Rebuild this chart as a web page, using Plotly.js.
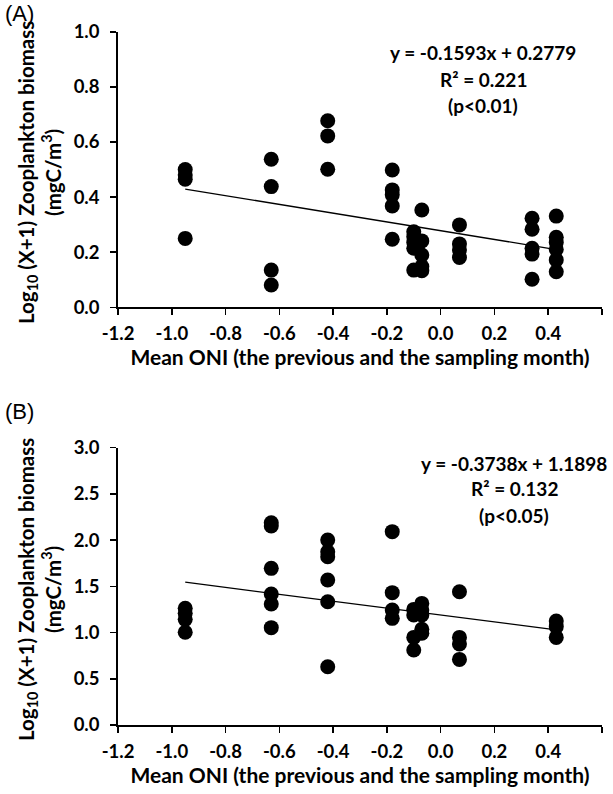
<!DOCTYPE html>
<html>
<head>
<meta charset="utf-8">
<script src="https://cdn.plot.ly/plotly-3.0.1.min.js"></script>
<style>html,body{margin:0;padding:0;background:#fff;}#chart{width:613px;height:794px;}</style>
</head>
<body>
<div id="chart"></div>
<script>
// Panel A: Mean ONI vs log10(X+1) zooplankton biomass
const oniA = [-0.95,-0.95,-0.95,-0.95,
  -0.63,-0.63,-0.63,-0.63,
  -0.42,-0.42,-0.42,
  -0.18,-0.18,-0.18,-0.18,-0.18,
  -0.10,-0.10,-0.10,-0.10,-0.10,
  -0.07,-0.07,-0.07,-0.07,-0.07,
  0.07,0.07,0.07,0.07,
  0.34,0.34,0.34,0.34,0.34,
  0.43,0.43,0.43,0.43,0.43,0.43];
const bioA = [0.50,0.48,0.465,0.25,
  0.537,0.438,0.135,0.081,
  0.677,0.622,0.501,
  0.498,0.426,0.408,0.368,0.247,
  0.274,0.256,0.235,0.214,0.135,
  0.353,0.241,0.190,0.148,0.133,
  0.299,0.230,0.208,0.181,
  0.323,0.283,0.214,0.193,0.102,
  0.331,0.254,0.235,0.210,0.172,0.129];
// Panel B
const oniB = [-0.95,-0.95,-0.95,-0.95,
  -0.63,-0.63,-0.63,-0.63,-0.63,-0.63,
  -0.42,-0.42,-0.42,-0.42,-0.42,-0.42,
  -0.18,-0.18,-0.18,-0.18,
  -0.10,-0.10,-0.10,-0.10,
  -0.07,-0.07,-0.07,-0.07,-0.07,
  0.07,0.07,0.07,0.07,
  0.43,0.43,0.43];
const bioB = [1.262,1.208,1.143,1.003,
  2.189,2.153,1.695,1.417,1.309,1.053,
  2.001,1.875,1.821,1.569,1.334,0.631,
  2.092,1.432,1.244,1.154,
  1.251,1.19,0.948,0.811,
  1.316,1.244,1.19,1.035,0.992,
  1.442,0.948,0.876,0.710,
  1.125,1.064,0.948];
// Regression fits
const slopeA = -0.1593, interceptA = 0.2779;
const slopeB = -0.3738, interceptB = 1.1898;
const fitXA = [Math.min(...oniA), Math.max(...oniA)];
const fitXB = [Math.min(...oniB), Math.max(...oniB)];
const xTicks = [-1.2,-1.0,-0.8,-0.6,-0.4,-0.2,0.0,0.2,0.4,0.6];
const yTicksA = [0.0,0.2,0.4,0.6,0.8,1.0];
const yTicksB = [0.0,0.5,1.0,1.5,2.0,2.5,3.0];
const eqA = ['y = -0.1593x + 0.2779','R² = 0.221','(p<0.01)'];
const eqB = ['y = -0.3738x + 1.1898','R² = 0.132','(p<0.05)'];
const xTitle = 'Mean ONI (the previous and the sampling month)';
const yTitle = 'Log<sub>10</sub> (X+1) Zooplankton biomass<br>(mgC/m<sup>3</sup>)';

const FONT = 'Lato, "Open Sans", sans-serif';
const mk = {color:'#000', size:15, line:{width:0}};

const traces = [
  {x:oniA, y:bioA, type:'scatter', mode:'markers', marker:mk, xaxis:'x', yaxis:'y', showlegend:false, cliponaxis:false},
  {x:fitXA, y:fitXA.map(v=>slopeA*v+interceptA), type:'scatter', mode:'lines', line:{color:'#000', width:1.3}, xaxis:'x', yaxis:'y', showlegend:false},
  {x:oniB, y:bioB, type:'scatter', mode:'markers', marker:mk, xaxis:'x2', yaxis:'y2', showlegend:false, cliponaxis:false},
  {x:fitXB, y:fitXB.map(v=>slopeB*v+interceptB), type:'scatter', mode:'lines', line:{color:'#000', width:1.3}, xaxis:'x2', yaxis:'y2', showlegend:false}
];

function xax(anchor){
  return {
    domain:[0.1925,0.982], anchor:anchor, range:[-1.2,0.6],
    tickmode:'array', tickvals:xTicks, ticktext:xTicks.map(v=>v.toFixed(1)),
    ticks:'outside', ticklen:6, tickwidth:1.5, tickcolor:'#000',
    showline:true, linecolor:'#000', linewidth:1.8, showgrid:false, zeroline:false,
    tickfont:{family:FONT, size:18.5, color:'#000', weight:'bold'},
    ticklabelstandoff:3,
    title:{text:xTitle, font:{family:FONT, size:21, color:'#000', weight:'bold'}, standoff:4}
  };
}
function yax(anchor, dom, range, ticks){
  return {
    domain:dom, anchor:anchor, range:range,
    tickmode:'array', tickvals:ticks, ticktext:ticks.map(v=>v.toFixed(1)),
    ticks:'outside', ticklen:6, tickwidth:1.5, tickcolor:'#000',
    showline:true, linecolor:'#000', linewidth:1.8, showgrid:false, zeroline:false,
    tickfont:{family:FONT, size:18.5, color:'#000', weight:'bold'},
    ticklabelstandoff:7
  };
}

const annFont = {family:FONT, size:19, color:'#000', weight:'bold'};
const yTitleFont = {family:FONT, size:20.5, color:'#000', weight:'bold'};
const annotations = [];
eqA.forEach((t,i)=>annotations.push({xref:'paper', yref:'paper', x:483/613, y:1-(53+i*26)/794, text:t, showarrow:false, font:annFont, xanchor:'center', yanchor:'middle'}));
eqB.forEach((t,i)=>annotations.push({xref:'paper', yref:'paper', x:514/613, y:1-(463+i*26)/794, text:t, showarrow:false, font:annFont, xanchor:'center', yanchor:'middle'}));
annotations.push({xref:'paper', yref:'paper', x:3/613, y:1-14/794, text:'(A)', showarrow:false, font:{family:'"Liberation Sans", Arial, sans-serif', size:22, color:'#000'}, xanchor:'left', yanchor:'middle'});
annotations.push({xref:'paper', yref:'paper', x:3/613, y:1-411/794, text:'(B)', showarrow:false, font:{family:'"Liberation Sans", Arial, sans-serif', size:22, color:'#000'}, xanchor:'left', yanchor:'middle'});
annotations.push({xref:'paper', yref:'paper', x:39/613, y:1-173/794, text:yTitle, textangle:-90, showarrow:false, font:yTitleFont, xanchor:'center', yanchor:'middle'});
annotations.push({xref:'paper', yref:'paper', x:39/613, y:1-590/794, text:yTitle, textangle:-90, showarrow:false, font:yTitleFont, xanchor:'center', yanchor:'middle'});

const layout = {
  width:613, height:794, margin:{l:0,r:0,t:0,b:0},
  paper_bgcolor:'#fff', plot_bgcolor:'#fff',
  xaxis:xax('y'), yaxis:yax('x',[0.613,0.960],[0,1.0],yTicksA),
  xaxis2:xax('y2'), yaxis2:yax('x2',[0.0869,0.4361],[0,3.0],yTicksB),
  annotations:annotations
};
Plotly.newPlot('chart', traces, layout, {displayModeBar:false, staticPlot:true});
</script>
</body>
</html>
